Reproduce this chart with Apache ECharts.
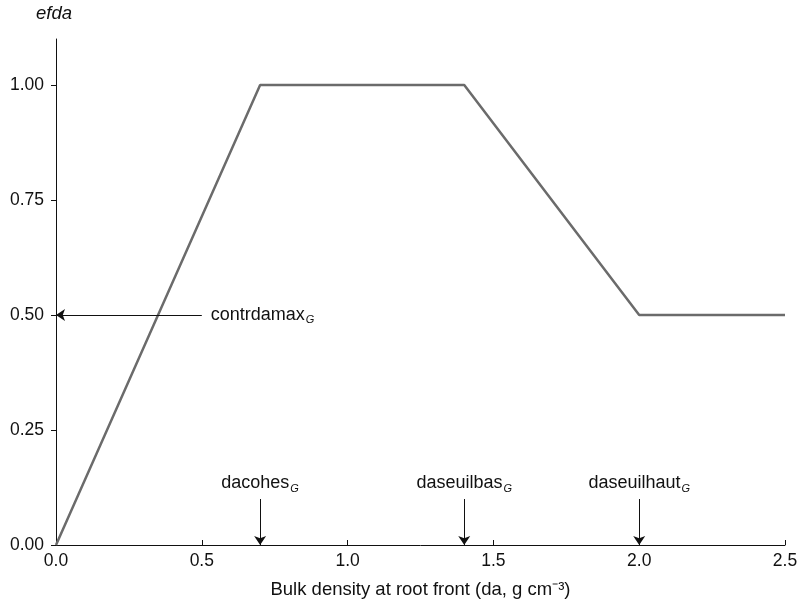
<!DOCTYPE html>
<html lang="en">
<head>
	<meta charset="UTF-8">
	<script src="https://cdn.jsdelivr.net/npm/echarts@6/dist/echarts.min.js"></script>
	<title>efda</title>
	<style>
		body { margin: 0; background: #fff; }
	</style>
</head>
<body>
	<div id="main" style="width: 798px;height:605px;"></div>

	<script>
		// data
		var daValues = [0, 0.7, 1.4, 2.0, 2.5];
		var efdaValues = [0, 1, 1, 0.5, 0.5];
		var yTicks = [0, 0.25, 0.5, 0.75, 1.0];

		// annotated thresholds on x axis (name, x value)
		var thresholdNames = ['dacohes', 'daseuilbas', 'daseuilhaut'];
		var thresholdValues = [0.7, 1.4, 2.0];
		// horizontal annotation
		var contrdamaxValue = 0.5;

		var fontFamily = '"Liberation Sans", Arial, sans-serif';

		var labelRich = {
			a: { fontSize: 18, color: '#111', fontFamily: fontFamily },
			g: { fontSize: 11, color: '#111', fontStyle: 'italic', fontFamily: fontFamily, padding: [10, 0, 0, 1] }
		};

		var lineData = daValues.map(function (x, i) { return [x, efdaValues[i]]; });

		var markData = thresholdValues.map(function (x, i) {
			return [
				{ coord: [x, 0.1], label: { formatter: '{a|' + thresholdNames[i] + '}{g|G}' } },
				{ coord: [x, 0] }
			];
		});
		markData.push([
			{ coord: [0.5, contrdamaxValue], label: { formatter: '{a|contrdamax}{g|G}', distance: 9 } },
			{ coord: [0, contrdamaxValue] }
		]);

		var chart = echarts.init(document.getElementById('main'));
		chart.setOption({
			animation: false,
			grid: { left: 56, right: 13, top: 39, bottom: 60, outerBoundsMode: 'none' },
			xAxis: {
				type: 'value',
				min: 0,
				max: 2.5,
				interval: 0.5,
				name: 'Bulk density at root front (da, g cm\u207B\u00B3)',
				nameLocation: 'middle',
				nameGap: 35,
				nameTextStyle: { fontSize: 18.5, color: '#111', fontFamily: fontFamily },
				axisLine: { lineStyle: { color: '#111', width: 1 } },
				axisTick: { inside: true, length: 5, lineStyle: { color: '#111' } },
				axisLabel: {
					margin: 7,
					fontSize: 17.5,
					color: '#111',
					fontFamily: fontFamily,
					formatter: function (v) { return v.toFixed(1); }
				},
				splitLine: { show: false }
			},
			yAxis: {
				type: 'value',
				min: 0,
				max: 1.1,
				axisLine: { show: true, lineStyle: { color: '#111', width: 1 } },
				axisTick: { show: true, length: 5, customValues: yTicks, lineStyle: { color: '#111' } },
				axisLabel: {
					customValues: yTicks,
					margin: 12,
					fontSize: 17.5,
					color: '#111',
					fontFamily: fontFamily,
					formatter: function (v) { return v.toFixed(2); }
				},
				splitLine: { show: false }
			},
			graphic: [{
				type: 'text',
				left: 36,
				top: 4,
				style: {
					text: 'efda',
					fontSize: 18.5,
					fontStyle: 'italic',
					fill: '#111',
					fontFamily: fontFamily
				}
			}],
			series: [{
				type: 'line',
				data: lineData,
				showSymbol: false,
				lineStyle: { color: '#6b6b6b', width: 2.5 },
				markLine: {
					silent: true,
					symbol: ['none', 'arrow'],
					symbolSize: 9,
					lineStyle: { color: '#111', width: 1, type: 'solid' },
					label: { show: true, position: 'start', distance: 5, rich: labelRich },
					data: markData
				}
			}]
		});
	</script>
</body>
</html>
